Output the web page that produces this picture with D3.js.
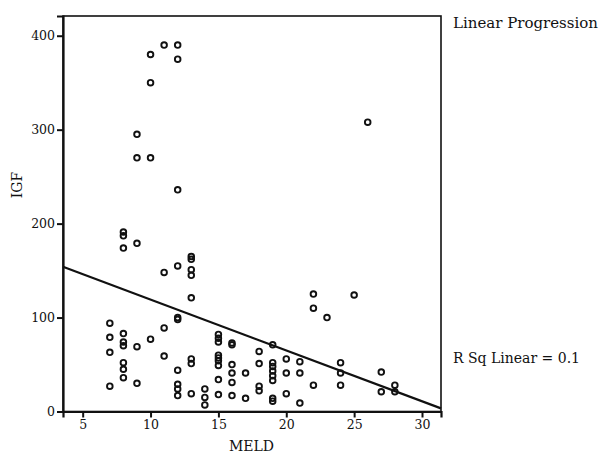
<!DOCTYPE html>
<html>
<head>
<meta charset="utf-8">
<script src="https://cdn.jsdelivr.net/npm/d3@7"></script>
<style>
  body { margin: 0; background: #fff; }
  text { font-family: "DejaVu Serif", serif; fill: #111; }
</style>
</head>
<body>
<svg id="chart"></svg>
<script>
// data (MELD vs IGF)
var meld = [
  7, 7, 7, 7,
  8, 8, 8, 8, 8, 8, 8, 8, 8,
  9, 9, 9, 9, 9,
  10, 10, 10, 10,
  11, 11, 11, 11,
  12, 12, 12, 12, 12, 12, 12, 12, 12, 12,
  13, 13, 13, 13, 13, 13, 13, 13,
  14, 14, 14,
  15, 15, 15, 15, 15, 15, 15, 15, 15,
  16, 16, 16, 16, 16, 16,
  17, 17,
  18, 18, 18, 18,
  19, 19, 19, 19, 19, 19, 19, 19,
  20, 20, 20,
  21, 21, 21,
  22, 22, 22,
  23,
  24, 24, 24,
  25,
  26,
  27, 27,
  28, 28
];
var igf = [
  94, 79, 63, 27,
  191, 187, 174, 83, 74, 70, 52, 45, 36,
  295, 270, 179, 69, 30,
  380, 350, 270, 77,
  390, 148, 89, 59,
  390, 375, 236, 155, 100, 98, 44, 29, 24, 17,
  165, 162, 151, 145, 121, 56, 51, 19,
  24, 15, 7,
  82, 78, 74, 60, 57, 54, 49, 34, 18,
  73, 71, 50, 41, 31, 17,
  41, 14,
  64, 51, 27, 22,
  71, 52, 48, 43, 38, 33, 14, 11,
  56, 41, 19,
  53, 41, 9,
  125, 110, 28,
  100,
  52, 41, 28,
  124,
  308,
  42, 21,
  28, 21
];
var xTicks = [5, 10, 15, 20, 25, 30];
var yTicks = [0, 100, 200, 300, 400];
var xDomain = [3.55, 31.4];
var yDomain = [0, 421];
// fitted line: IGF = a + b * MELD
var fitIntercept = 173.2;
var fitSlope = -5.41;
var legendTitle = "Linear Progression";
var rsqLabel = "R Sq Linear = 0.1";

var width = 601;
var height = 455;
var plotLeft = 63, plotRight = 441, plotTop = 16, plotBottom = 411.5;

var svg = d3.select("#chart")
    .attr("width", width)
    .attr("height", height);

svg.append("rect")
    .attr("width", width)
    .attr("height", height)
    .attr("fill", "#fff");

var x = d3.scaleLinear().domain(xDomain).range([plotLeft, plotRight]);
var y = d3.scaleLinear().domain(yDomain).range([plotBottom, plotTop]);

// frame
svg.append("rect")
    .attr("x", plotLeft)
    .attr("y", plotTop)
    .attr("width", plotRight - plotLeft)
    .attr("height", plotBottom - plotTop)
    .attr("fill", "none")
    .attr("stroke", "#111")
    .attr("stroke-width", 1.6);

var xAxis = svg.append("g")
    .attr("transform", "translate(0," + plotBottom + ")")
    .call(d3.axisBottom(x).tickValues(xTicks).tickSize(6).tickPadding(3).tickFormat(d3.format("d")));

var yAxis = svg.append("g")
    .attr("transform", "translate(" + plotLeft + ",0)")
    .call(d3.axisLeft(y).tickValues(yTicks).tickSize(6).tickPadding(2).tickFormat(d3.format("d")));

[xAxis, yAxis].forEach(function (a) {
    a.select(".domain").attr("stroke", "#111").attr("stroke-width", 2.2);
    a.selectAll(".tick line").attr("stroke", "#111").attr("stroke-width", 2);
    a.selectAll(".tick text")
        .style("font-family", "'DejaVu Serif', serif")
        .style("font-size", "12.5px")
        .attr("fill", "#111");
});

// points
svg.append("g")
    .selectAll("circle")
    .data(meld)
    .enter()
    .append("circle")
    .attr("cx", function (d) { return x(d); })
    .attr("cy", function (d, i) { return y(igf[i]); })
    .attr("r", 2.8)
    .attr("fill", "none")
    .attr("stroke", "#111")
    .attr("stroke-width", 1.9);

// fit line
svg.append("line")
    .attr("x1", x(xDomain[0]))
    .attr("y1", y(fitIntercept + fitSlope * xDomain[0]))
    .attr("x2", x(xDomain[1]))
    .attr("y2", y(fitIntercept + fitSlope * xDomain[1]))
    .attr("stroke", "#111")
    .attr("stroke-width", 2.2);

// labels
svg.append("text")
    .text("MELD")
    .attr("x", (plotLeft + plotRight) / 2 - 0.5)
    .attr("y", 451)
    .attr("text-anchor", "middle")
    .style("font-size", "14px");

svg.append("text")
    .text("IGF")
    .attr("transform", "translate(22,185) rotate(-90)")
    .attr("text-anchor", "middle")
    .style("font-size", "14px");

svg.append("text")
    .text(legendTitle)
    .attr("x", 453)
    .attr("y", 28)
    .style("font-size", "15px");

svg.append("text")
    .text(rsqLabel)
    .attr("x", 453)
    .attr("y", 363)
    .style("font-size", "14px");
</script>
</body>
</html>
